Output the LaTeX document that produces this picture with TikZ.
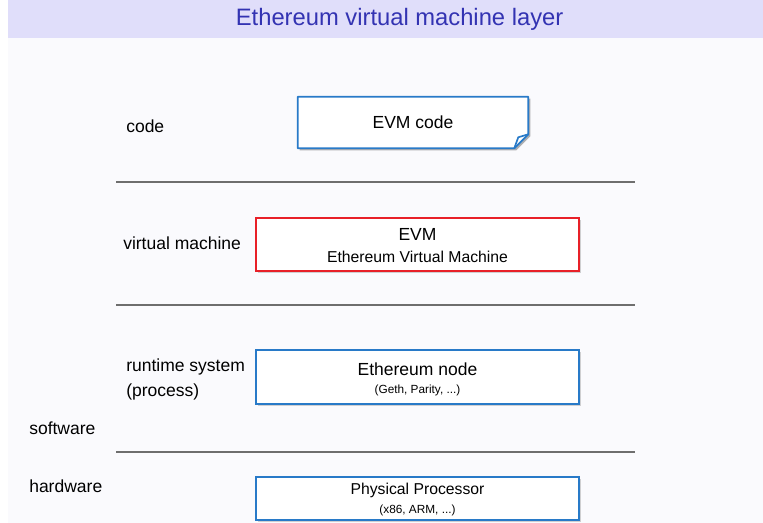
\documentclass[tikz,border=0pt]{standalone}
\usepackage{fontspec}
\setmainfont{Liberation Sans}
\usepackage{xcolor}
\usetikzlibrary{positioning, shadows}
\definecolor{titlebar}{RGB}{224,222,250}
\definecolor{titleblue}{rgb}{0.2,0.2,0.7}
\definecolor{pagebg}{RGB}{250,250,253}
\definecolor{boxblue}{RGB}{40,122,200}
\definecolor{boxred}{RGB}{232,32,40}
\definecolor{rulegray}{RGB}{110,110,110}
\newcommand{\bigtxt}{\fontsize{12.45pt}{15pt}\selectfont}
\newcommand{\midtxt}{\fontsize{11.2pt}{13pt}\selectfont}
\newcommand{\smalltxt}{\fontsize{8.4pt}{10pt}\selectfont}

\begin{document}
\begin{tikzpicture}[font=\bigtxt,
	layerbox/.style={draw=boxblue, line width=1.2pt, fill=white, minimum width=8.075cm, inner sep=0pt,
		drop shadow={shadow xshift=0.05cm, shadow yshift=-0.05cm, opacity=0.35}},
	layerlabel/.style={anchor=west, inner sep=0pt, align=left},
	sepline/.style={draw=rulegray, line width=1.1pt}]
		\useasboundingbox (0cm, 0cm) rectangle (19.075cm, 13.075cm);
		\fill [pagebg] (0.2cm, 0cm) rectangle (19.075cm, 12.125cm);
		\fill [titlebar] (0.2cm, 12.125cm) rectangle (19.075cm, 13.075cm);
		\node [text=titleblue, font=\fontsize{16.9pt}{20pt}\selectfont] (title) at (9.99cm, 12.6cm) {Ethereum virtual machine layer};

		% layer names
		\node [layerlabel] (codelbl) at (3.15cm, 9.925cm) {code};
		\node [layerlabel] (vmlbl) at (3.075cm, 7.0cm) {virtual machine};
		\node [layerlabel, font=\fontsize{12.45pt}{17.8pt}\selectfont] (rtlbl) at (3.15cm, 3.5875cm) {runtime system\\(process)};
		\node [layerlabel] (swlbl) at (0.725cm, 2.375cm) {software};
		\node [layerlabel] (hwlbl) at (0.725cm, 0.925cm) {hardware};

		% separators
		\coordinate (sep1w) at (2.9cm, 8.525cm);
		\coordinate (sep1e) at (15.875cm, 8.525cm);
		\coordinate (sep2w) at (2.9cm, 5.45cm);
		\coordinate (sep2e) at (15.875cm, 5.45cm);
		\coordinate (sep3w) at (2.9cm, 1.775cm);
		\coordinate (sep3e) at (15.875cm, 1.775cm);
		\draw [sepline] (sep1w) -- (sep1e);
		\draw [sepline] (sep2w) -- (sep2e);
		\draw [sepline] (sep3w) -- (sep3e);

		% code box with folded corner
		\node [minimum width=5.75cm, minimum height=1.275cm, inner sep=0pt] (code) at (10.325cm, 10.0125cm) {};
		\fill [black, opacity=0.3] ([shift={(0.05cm,-0.05cm)}]code.north west) -- ([shift={(0.05cm,-0.05cm)}]code.north east)
			-- ([shift={(0.05cm,0.3cm)}]code.south east) -- ([shift={(-0.3cm,-0.05cm)}]code.south east)
			-- ([shift={(0.05cm,-0.05cm)}]code.south west) -- cycle;
		\draw [draw=boxblue, line width=1.2pt, fill=white, line join=round] (code.north west) -- (code.north east)
			-- ([yshift=0.35cm]code.south east) -- ([xshift=-0.35cm]code.south east) -- (code.south west) -- cycle;
		\draw [draw=boxblue, line width=1.2pt, line join=round] ([yshift=0.35cm]code.south east)
			-- ([shift={(-0.25cm,0.275cm)}]code.south east) -- ([xshift=-0.35cm]code.south east);
		\node (codetxt) at ([yshift=0.01cm]code) {EVM code};

		% layer boxes
		\node [layerbox, draw=boxred, minimum height=1.325cm] (evm) at (10.4375cm, 6.9625cm) {};
		\node (evmtxt) at ([yshift=0.26cm]evm) {EVM};
		\node [font=\midtxt] (evmsub) at ([yshift=-0.32cm]evm) {Ethereum Virtual Machine};

		\node [layerbox, minimum height=1.35cm] (node) at (10.4375cm, 3.65cm) {};
		\node (nodetxt) at ([yshift=0.2cm]node) {Ethereum node};
		\node [font=\smalltxt] (nodesub) at ([yshift=-0.33cm]node) {(Geth, Parity, ...)};

		\node [layerbox, minimum height=1.075cm] (cpu) at (10.4375cm, 0.6125cm) {};
		\node [font=\midtxt] (cputxt) at ([yshift=0.21cm]cpu) {Physical Processor};
		\node [font=\smalltxt] (cpusub) at ([yshift=-0.29cm]cpu) {(x86, ARM, ...)};
	\end{tikzpicture}
\end{document}
